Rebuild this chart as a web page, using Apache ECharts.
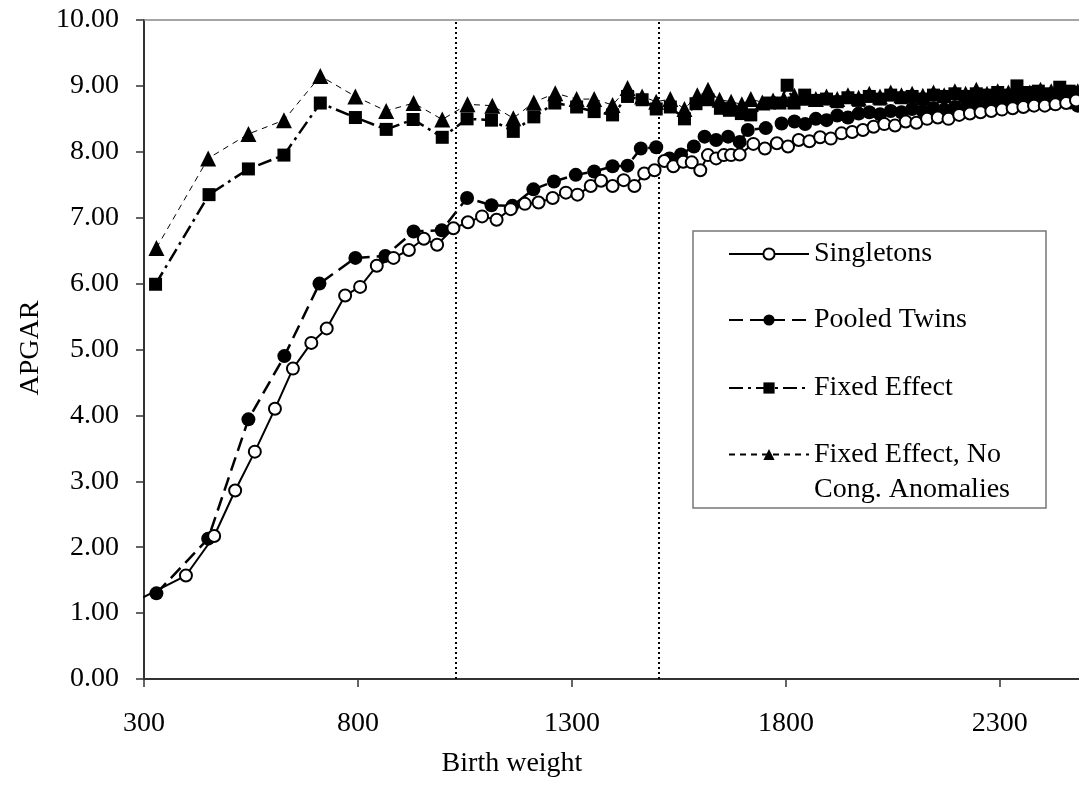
<!DOCTYPE html>
<html>
<head>
<meta charset="utf-8">
<script src="https://cdn.jsdelivr.net/npm/echarts@6/dist/echarts.min.js"></script>
<style>
html,body{margin:0;padding:0;background:#fff;}
#c{width:1079px;height:790px;}
</style>
</head>
<body>
<div id="c"></div>
<script>
// ---- data: [birth weight, APGAR] ----
const singletons = [
  [298,1.24],[398,1.57],[464,2.17],[513,2.86],[559,3.45],[606,4.10],[648,4.71],[691,5.10],[727,5.32],
  [770,5.82],[805,5.95],[844,6.27],[883,6.39],[919,6.51],[954,6.68],[985,6.59],[1023,6.84],[1057,6.93],
  [1090,7.02],[1124,6.97],[1157,7.13],[1190,7.21],[1222,7.23],[1255,7.30],[1286,7.38],[1313,7.35],
  [1344,7.48],[1368,7.56],[1395,7.48],[1421,7.57],[1446,7.48],[1469,7.67],[1493,7.72],[1516,7.86],
  [1537,7.78],[1560,7.85],[1580,7.84],[1600,7.72],[1618,7.95],[1637,7.90],[1655,7.95],[1672,7.95],
  [1692,7.96],[1724,8.12],[1751,8.05],[1779,8.13],[1805,8.08],[1830,8.18],[1855,8.16],[1880,8.22],
  [1905,8.20],[1930,8.28],[1955,8.30],[1980,8.33],[2005,8.38],[2030,8.42],[2055,8.40],[2080,8.46],
  [2105,8.44],[2130,8.50],[2155,8.52],[2180,8.50],[2205,8.56],[2230,8.58],[2255,8.60],[2280,8.62],
  [2305,8.64],[2330,8.66],[2355,8.68],[2380,8.70],[2405,8.70],[2430,8.72],[2455,8.74],[2478,8.78]
];
const pooledTwins = [
  [329,1.30],[450,2.13],[544,3.94],[628,4.90],[710,6.00],[794,6.39],[864,6.42],[930,6.79],[996,6.81],
  [1055,7.30],[1112,7.19],[1161,7.18],[1210,7.43],[1258,7.55],[1309,7.65],[1352,7.70],[1395,7.78],
  [1430,7.79],[1461,8.05],[1497,8.07],[1528,7.90],[1555,7.96],[1585,8.08],[1610,8.23],[1637,8.18],
  [1665,8.23],[1692,8.15],[1711,8.33],[1753,8.36],[1790,8.43],[1820,8.46],[1845,8.42],[1870,8.50],
  [1895,8.48],[1920,8.55],[1945,8.52],[1970,8.58],[1995,8.60],[2020,8.57],[2045,8.62],[2070,8.60],
  [2095,8.65],[2120,8.62],[2145,8.66],[2170,8.64],[2195,8.68],[2220,8.66],[2245,8.70],[2270,8.68],
  [2295,8.72],[2320,8.70],[2345,8.74],[2370,8.72],[2395,8.76],[2420,8.74],[2445,8.78],[2465,8.75],[2482,8.70]
];
const fixedEffect = [
  [327,5.99],[452,7.35],[544,7.74],[627,7.95],[712,8.74],[794,8.52],[866,8.34],[929,8.49],[997,8.22],
  [1055,8.50],[1112,8.48],[1163,8.31],[1211,8.53],[1260,8.74],[1311,8.68],[1352,8.61],[1395,8.56],
  [1430,8.84],[1464,8.79],[1497,8.65],[1530,8.68],[1563,8.50],[1590,8.73],[1618,8.79],[1647,8.66],
  [1668,8.63],[1696,8.58],[1718,8.56],[1762,8.74],[1786,8.74],[1803,9.01],[1819,8.74],[1844,8.86],
  [1870,8.78],[1895,8.80],[1920,8.76],[1945,8.82],[1970,8.78],[1995,8.84],[2020,8.80],[2045,8.86],
  [2070,8.82],[2095,8.84],[2120,8.80],[2145,8.86],[2170,8.84],[2195,8.88],[2220,8.84],[2245,8.88],
  [2270,8.86],[2295,8.90],[2320,8.86],[2340,9.00],[2365,8.90],[2390,8.92],[2415,8.88],[2440,8.98],
  [2462,8.92],[2482,8.90]
];
const fixedEffectNoCong = [
  [329,6.54],[450,7.90],[544,8.27],[627,8.48],[712,9.15],[794,8.84],[866,8.62],[930,8.74],[997,8.49],
  [1056,8.72],[1114,8.70],[1163,8.51],[1211,8.75],[1261,8.89],[1311,8.80],[1352,8.80],[1395,8.71],
  [1430,8.97],[1464,8.84],[1497,8.76],[1530,8.80],[1563,8.65],[1593,8.86],[1618,8.94],[1645,8.79],
  [1672,8.76],[1697,8.72],[1718,8.80],[1745,8.75],[1770,8.78],[1795,8.80],[1820,8.85],[1845,8.82],
  [1870,8.80],[1895,8.84],[1920,8.80],[1945,8.86],[1970,8.82],[1995,8.88],[2020,8.84],[2045,8.90],
  [2070,8.86],[2095,8.88],[2120,8.85],[2145,8.90],[2170,8.86],[2195,8.92],[2220,8.88],[2245,8.94],
  [2270,8.88],[2295,8.92],[2320,8.90],[2345,8.94],[2370,8.90],[2395,8.94],[2420,8.92],[2445,8.94],
  [2465,8.90],[2482,8.92]
];
const referenceLines = [1028, 1502];
const seriesNames = ['Singletons', 'Pooled Twins', 'Fixed Effect', 'Fixed Effect, No Cong. Anomalies'];
const lastLegendLines = ['Fixed Effect, No', 'Cong. Anomalies'];
const xTitle = 'Birth weight';
const yTitle = 'APGAR';

const FONT = '"Liberation Serif","Times New Roman",serif';
const chart = echarts.init(document.getElementById('c'));

function legendFor(name, top, extra) {
  return Object.assign({
    data: [name], orient: 'vertical', left: 728, top: top, padding: 0, z: 20,
    itemWidth: 80, itemHeight: 14, selectedMode: false,
    textStyle: { fontFamily: FONT, fontSize: 28, color: '#000', lineHeight: 32 }
  }, extra || {});
}

const option = {
  animation: false,
  backgroundColor: '#fff',
  grid: { left: 144, top: 20, right: 0, bottom: 111 },
  xAxis: [{
    type: 'value', min: 300, max: 2485, interval: 500,
    axisLine: { lineStyle: { color: '#333', width: 2 } },
    axisTick: { show: true, length: 8, lineStyle: { color: '#333', width: 1.5 } },
    axisLabel: { fontFamily: FONT, fontSize: 28, color: '#000', margin: 31, showMaxLabel: false,
                 formatter: v => String(v) },
    splitLine: { show: false }
  }, {
    type: 'value', position: 'top', min: 300, max: 2485,
    axisLine: { show: true, lineStyle: { color: '#888', width: 1.5 } },
    axisTick: { show: false }, axisLabel: { show: false }, splitLine: { show: false }
  }],
  yAxis: {
    type: 'value', min: 0, max: 10, interval: 1,
    axisLine: { show: true, lineStyle: { color: '#333', width: 2 } },
    axisTick: { show: true, length: 8, lineStyle: { color: '#333', width: 1.5 } },
    axisLabel: { fontFamily: FONT, fontSize: 28, color: '#000', margin: 25, formatter: v => v.toFixed(2) },
    splitLine: { show: false }
  },
  graphic: [
    { type: 'rect', z: 1, shape: { x: 693, y: 231, width: 353, height: 277 },
      style: { fill: '#fff', stroke: '#777', lineWidth: 1.5 } },
    { type: 'text', x: 512, y: 764, style: { text: xTitle, font: '28px ' + FONT, fill: '#000', align: 'center', verticalAlign: 'middle' } },
    { type: 'text', x: 31, y: 348, rotation: Math.PI / 2, style: { text: yTitle, font: '28px ' + FONT, fill: '#000', align: 'center', verticalAlign: 'middle' } }
  ],
  legend: [
    legendFor(seriesNames[0], 238),
    legendFor(seriesNames[1], 304),
    legendFor(seriesNames[2], 372),
    legendFor(seriesNames[3], 402, {
      formatter: () => ' \n' + lastLegendLines.join('\n'),
      textStyle: { fontFamily: FONT, fontSize: 28, color: '#000', lineHeight: 35 }
    })
  ],
  series: [
    {
      name: seriesNames[3], type: 'line', data: fixedEffectNoCong, z: 2, silent: true,
      symbol: 'triangle', symbolSize: 16,
      itemStyle: { color: '#000' },
      lineStyle: { color: '#000', width: 1, type: [6, 5] }
    },
    {
      name: seriesNames[2], type: 'line', data: fixedEffect, z: 3, silent: true,
      symbol: 'rect', symbolSize: 13,
      itemStyle: { color: '#000' },
      lineStyle: { color: '#000', width: 2.5, type: [14, 5, 3, 5] }
    },
    {
      name: seriesNames[1], type: 'line', data: pooledTwins, z: 4, silent: true,
      symbol: 'circle', symbolSize: 14,
      itemStyle: { color: '#000' },
      lineStyle: { color: '#000', width: 2.5, type: [14, 7] }
    },
    {
      name: seriesNames[0], type: 'line', data: singletons, z: 5, silent: true,
      symbol: 'circle', symbolSize: 12,
      itemStyle: { color: '#fff', borderColor: '#000', borderWidth: 2 },
      lineStyle: { color: '#000', width: 2 },
      markLine: {
        silent: true, symbol: ['none', 'none'], label: { show: false },
        lineStyle: { color: '#000', width: 2, type: [2, 3] },
        data: referenceLines.map(x => ({ xAxis: x }))
      }
    }
  ]
};
chart.setOption(option);
</script>
</body>
</html>
